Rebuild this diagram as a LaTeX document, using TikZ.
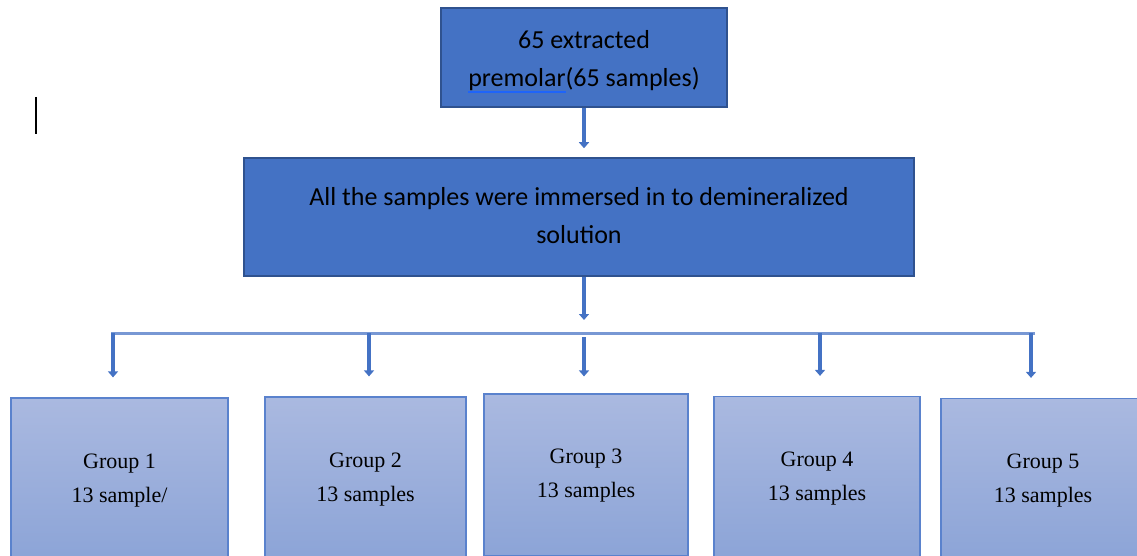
\documentclass[tikz,border=0pt]{standalone}
\usepackage{fontspec}
\setmainfont{Liberation Serif}
\newfontfamily\calib{Carlito}
\usetikzlibrary{arrows.meta}
\definecolor{wblue}{RGB}{68,114,196}
\definecolor{wborder}{RGB}{47,82,143}
\definecolor{ulblue}{RGB}{30,100,250}
\definecolor{gtop}{RGB}{170,185,224}
\definecolor{gbot}{RGB}{140,164,215}
\definecolor{gborder}{RGB}{90,130,205}
\definecolor{barblue}{RGB}{120,152,212}
\newcommand\blueunder[1]{\setbox0\hbox{#1}\rlap{\textcolor{ulblue}{\rule[-6.5pt]{\wd0}{1.8pt}}}#1}
\begin{document}
\begin{tikzpicture}[x=1pt,y=-1pt,
 darkbox/.style={draw=wborder,line width=1.5pt,fill=wblue,inner sep=0pt,align=center,font=\calib\fontsize{26}{38}\selectfont},
 groupbox/.style={draw=gborder,line width=1.2pt,top color=gtop,bottom color=gbot,inner sep=0pt,align=center,minimum height=162pt,text height=52pt,text depth=6pt,font=\fontsize{22}{34}\selectfont},
 arr/.style={draw=wblue,line width=4pt,-{Triangle[width=10pt,length=6pt]}},
 barline/.style={draw=barblue,line width=3pt}]
\useasboundingbox (0,0) rectangle (1137,556);
\node[darkbox,minimum width=286pt,minimum height=99pt,text height=64.5pt,text depth=6pt] (top) at (584,57.5) {65 extracted\\\blueunder{premolar}(65 samples)};
\node[darkbox,minimum width=670pt,minimum height=118pt,text height=58.5pt,text depth=6pt] (mid) at (579,217) {All the samples were immersed in to demineralized\\solution};
\node[groupbox,minimum width=217pt] (g1) at (119.5,479) {Group 1\\13 sample/};
\node[groupbox,minimum width=201pt] (g2) at (365.5,478) {Group 2\\13 samples};
\node[groupbox,minimum width=204pt,text height=50pt] (g3) at (586,475) {Group 3\\13 samples};
\node[groupbox,minimum width=206pt] (g4) at (817,477.5) {Group 4\\13 samples};
\node[groupbox,minimum width=204pt] (g5) at (1043,479.5) {Group 5\\13 samples};
\coordinate (a2end) at (584,320);
\coordinate (barL) at (111,333);
\coordinate (barR) at (1035,333);
\coordinate (d1) at (113,333);
\coordinate (d2) at (369,333);
\coordinate (d3) at (584,337);
\coordinate (d4) at (820,333);
\coordinate (d5) at (1031,333);
\draw[arr,shorten >=9pt] (top.south) -- (top.south |- mid.north);
\draw[arr] (top.south |- mid.south) -- (a2end);
\draw[barline] (barL) -- (barR);
\draw[arr,shorten >=20pt] (d1) -- (d1 |- g1.north);
\draw[arr,shorten >=20pt] (d2) -- (d2 |- g2.north);
\draw[arr,shorten >=17pt] (d3) -- (d3 |- g3.north);
\draw[arr,shorten >=20pt] (d4) -- (d4 |- g4.north);
\draw[arr,shorten >=20pt] (d5) -- (d5 |- g5.north);
\draw[line width=1.5pt] (36,97) -- (36,134);
\end{tikzpicture}
\end{document}
